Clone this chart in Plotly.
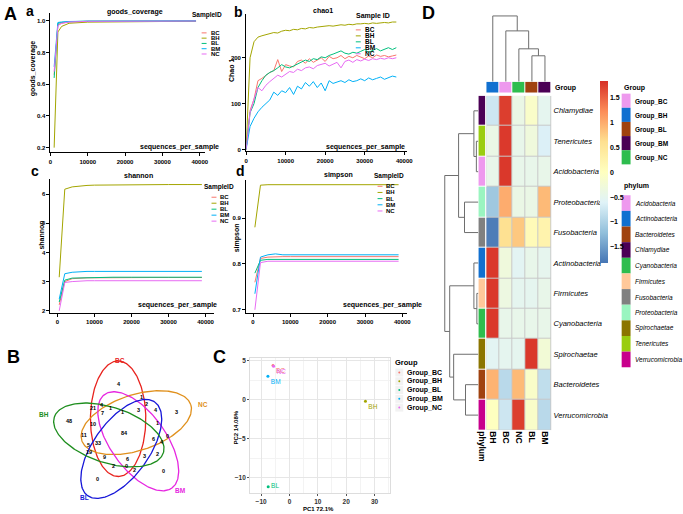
import numpy as np
import plotly.graph_objects as go

W, H = 683, 514
FONT = "Liberation Sans, Arial, sans-serif"
NARROW = "Liberation Sans Narrow, Arial Narrow, Liberation Sans, sans-serif"

# ---------------- data ----------------
samples = ["BC", "BH", "BL", "BM", "NC"]
sample_colors = ["#F8766D", "#A3A500", "#00BF7D", "#00B0F6", "#E76BF3"]

# a: goods_coverage
gc_depth = [1000, 2000, 3000, 5000, 10000, 20000, 30000, 39000]
gc_BC = [0.66, 0.975, 0.985, 0.993, 0.997, 0.998, 0.999, 0.999]
gc_BH = [0.20, 0.93, 0.965, 0.985, 0.992, 0.995, 0.997, 0.998]
gc_BL = [0.64, 0.985, 0.990, 0.995, 0.998, 0.999, 0.999, 0.999]
gc_BM = [0.71, 0.990, 0.993, 0.996, 0.998, 0.999, 0.999, 1.000]
gc_NC = [0.68, 0.970, 0.985, 0.993, 0.997, 0.998, 0.999, 0.999]

# b: chao1
chao_depth = list(range(0, 39000, 1000))
chao_BH = [0, 200, 235, 245, 248, 250, 252, 255, 254, 258, 260, 259, 262, 261, 264, 263, 266, 265, 267, 268,
           268, 270, 269, 271, 272, 271, 273, 272, 274, 274, 275, 274, 276, 275, 276, 277, 276, 278, 278]
chao_BC = [0, 85, 110, 150, 155, 162, 168, 172, 196, 170, 185, 182, 180, 192, 195, 188, 198, 190, 196, 200,
           192, 203, 198, 200, 205, 198, 203, 200, 205, 202, 198, 204, 200, 206, 203, 205, 202, 204, 206]
chao_BL = [0, 80, 100, 135, 150, 162, 168, 172, 178, 185, 180, 178, 182, 186, 190, 195, 192, 198, 196, 202,
           200, 205, 208, 212, 215, 210, 208, 212, 210, 214, 218, 212, 216, 220, 215, 218, 222, 218, 222]
chao_BM = [0, 50, 68, 82, 92, 100, 108, 125, 118, 128, 124, 135, 120, 138, 132, 146, 138, 148, 135, 145,
           128, 150, 144, 147, 150, 146, 152, 148, 150, 154, 150, 156, 152, 155, 158, 153, 157, 160, 158]
chao_NC = [0, 80, 110, 135, 128, 140, 148, 155, 162, 158, 165, 170, 168, 175, 172, 178, 180, 176, 183, 185,
           188, 182, 186, 190, 178, 192, 195, 190, 196, 193, 197, 194, 198, 196, 199, 197, 200, 198, 200]

# c: shannon, d: simpson
div_depth = [500, 2000, 4000, 6000, 8000, 10000, 15000, 20000, 25000, 30000, 35000, 39000]
sh_BC = [2.2, 3.00, 3.10, 3.12, 3.13, 3.13, 3.14, 3.14, 3.14, 3.14, 3.14, 3.14]
sh_BH = [3.15, 6.17, 6.25, 6.28, 6.30, 6.31, 6.32, 6.33, 6.33, 6.33, 6.33, 6.33]
sh_BL = [2.3, 3.05, 3.12, 3.13, 3.14, 3.15, 3.15, 3.15, 3.15, 3.15, 3.15, 3.15]
sh_BM = [2.4, 3.27, 3.32, 3.34, 3.35, 3.35, 3.35, 3.35, 3.35, 3.35, 3.35, 3.35]
sh_NC = [2.0, 2.97, 3.00, 3.02, 3.03, 3.03, 3.03, 3.03, 3.03, 3.03, 3.03, 3.03]
si_BC = [0.760, 0.812, 0.815, 0.816, 0.816, 0.816, 0.816, 0.816, 0.816, 0.816, 0.816, 0.816]
si_BH = [0.880, 0.972, 0.973, 0.973, 0.973, 0.973, 0.973, 0.973, 0.973, 0.973, 0.973, 0.973]
si_BL = [0.780, 0.808, 0.810, 0.810, 0.810, 0.810, 0.810, 0.810, 0.810, 0.810, 0.810, 0.810]
si_BM = [0.735, 0.815, 0.820, 0.822, 0.820, 0.820, 0.820, 0.820, 0.820, 0.820, 0.820, 0.820]
si_NC = [0.700, 0.803, 0.806, 0.806, 0.806, 0.806, 0.806, 0.806, 0.806, 0.806, 0.806, 0.806]

# B: Venn counts (31 regions)
venn_sets = ["BC", "NC", "BM", "BL", "BH"]
venn_set_colors = ["#E8231E", "#E0901C", "#E627E0", "#1616D8", "#1E8E1E"]
venn_counts = [4, 1, 1, 2, 4, 21, 1, 3, 4, 3, 7, 48, 10, 1, 84, 11, 0, 6, 5, 33, 4, 19, 9, 6, 3, 2, 2, 0, 2, 0, 0]

# C: PCA
pca_groups = ["Group_BC", "Group_BH", "Group_BL", "Group_BM", "Group_NC"]
pca_pc1 = [-5.8, 26.8, -7.5, -7.6, -5.6]
pca_pc2 = [4.4, -0.2, -11.2, 3.0, 4.3]

# D: heatmap
heat_cols = ["BH", "BC", "NC", "BL", "BM"]
phyla = ["Chlamydiae", "Tenericutes", "Acidobacteria", "Proteobacteria", "Fusobacteria",
         "Actinobacteria", "Firmicutes", "Cyanobacteria", "Spirochaetae", "Bacteroidetes", "Verrucomicrobia"]
heat_z = [
    [-0.75, 1.75, -0.40, -0.10, -0.50],
    [-0.40, 1.78, -0.45, -0.30, -0.63],
    [-0.45, 1.79, -0.45, -0.45, -0.44],
    [-1.10, 1.00, -0.40, -0.40, 0.90],
    [-1.75, 0.60, 0.80, 0.10, 0.25],
    [1.79, -0.30, -0.55, -0.45, -0.49],
    [1.79, -0.35, -0.50, -0.50, -0.44],
    [1.79, -0.45, -0.45, -0.45, -0.44],
    [-0.55, -0.50, -0.50, 1.79, -0.24],
    [0.95, -0.90, 0.90, -0.10, -0.85],
    [0.00, -0.75, 1.75, -0.10, -0.90],
]
group_names = ["Group_BC", "Group_BH", "Group_BL", "Group_BM", "Group_NC"]
group_colors = ["#EE99EE", "#1170D0", "#A0420F", "#4B0055", "#2EBD4E"]
phylum_legend = ["Acidobacteria", "Actinobacteria", "Bacteroidetes", "Chlamydiae", "Cyanobacteria",
                 "Firmicutes", "Fusobacteria", "Proteobacteria", "Spirochaetae", "Tenericutes", "Verrucomicrobia"]
phylum_colors = ["#EE99EE", "#1170D0", "#A0420F", "#4B0055", "#2EBD4E",
                 "#FFC89A", "#808080", "#9AF5C0", "#8B7500", "#9ACD10", "#C8008C"]
col_tree = ("BH", ("BC", ("NC", ("BL", "BM", 2.6), 3.3), 5.1), 6.6)
row_tree = ((("Chlamydiae", ("Tenericutes", "Acidobacteria", 0.2), 0.45),
             ("Proteobacteria", "Fusobacteria", 1.4), 2.0),
            (("Actinobacteria", ("Firmicutes", "Cyanobacteria", 0.15), 0.45),
             ("Spirochaetae", ("Bacteroidetes", "Verrucomicrobia", 1.3), 2.5), 2.9), 3.4)

# ---------------- helpers ----------------
def fx(p):
    return p / W

def fy(p):
    return 1 - p / H

fig = go.Figure()
layout = dict(width=W, height=H, margin=dict(l=0, r=0, t=0, b=0), paper_bgcolor="white",
              plot_bgcolor="white", showlegend=False, annotations=[], shapes=[])

def axes(i, x0, x1, y0, y1, xkw, ykw):
    xn = "xaxis" if i == 1 else f"xaxis{i}"
    yn = "yaxis" if i == 1 else f"yaxis{i}"
    xa = dict(domain=[fx(x0), fx(x1)], anchor="y" if i == 1 else f"y{i}")
    ya = dict(domain=[fy(y1), fy(y0)], anchor="x" if i == 1 else f"x{i}")
    xa.update(xkw)
    ya.update(ykw)
    layout[xn] = xa
    layout[yn] = ya
    return ("x" if i == 1 else f"x{i}"), ("y" if i == 1 else f"y{i}")

def ann(x, y, text, size, color="black", bold=True, italic=False, xanchor="center",
        yanchor="middle", angle=0, family=FONT):
    f = dict(size=size, color=color, family=family)
    if bold:
        f["weight"] = "bold"
    if italic:
        f["style"] = "italic"
    layout["annotations"].append(dict(x=fx(x), y=fy(y), xref="paper", yref="paper", text=text,
                                      showarrow=False, font=f, xanchor=xanchor, yanchor=yanchor,
                                      textangle=angle))

tick_font = dict(size=6, color="black", family=FONT, weight="bold")
line_ax = dict(showline=True, linecolor="black", linewidth=1, ticks="outside", ticklen=3,
               tickwidth=1, tickcolor="black", showgrid=False, zeroline=False, tickfont=tick_font)
xt = dict(tickvals=[0, 10000, 20000, 30000, 40000], ticktext=["0", "10000", "20000", "30000", "40000"])

# ---------------- panels a-d ----------------
xa_, ya_ = axes(1, 49, 205, 12, 152, dict(range=[0, 41300], **xt, **line_ax),
                dict(range=[0.17, 1.05], tickvals=[0.2, 0.4, 0.6, 0.8, 1.0],
                     ticktext=["0.2", "0.4", "0.6", "0.8", "1.0"], **line_ax))
xb_, yb_ = axes(2, 247, 410, 13, 151, dict(range=[0, 40750], **xt, **line_ax),
                dict(range=[-4.3, 295.6], tickvals=[0, 100, 200], **line_ax))
xc_, yc_ = axes(3, 49, 215, 179, 313, dict(range=[-1870, 42400], **xt, **line_ax),
                dict(range=[1.93, 6.51], tickvals=[2, 3, 4, 5, 6], **line_ax))
xd_, yd_ = axes(4, 247, 410, 180, 313, dict(range=[-1850, 41300], **xt, **line_ax),
                dict(range=[0.6935, 0.9826], tickvals=[0.7, 0.8, 0.9], **line_ax))

gc_vals = [gc_BC, gc_BH, gc_BL, gc_BM, gc_NC]
chao_vals = [chao_BC, chao_BH, chao_BL, chao_BM, chao_NC]
sh_vals = [sh_BC, sh_BH, sh_BL, sh_BM, sh_NC]
si_vals = [si_BC, si_BH, si_BL, si_BM, si_NC]
for k, s in enumerate(samples):
    c = sample_colors[k]
    fig.add_trace(go.Scatter(x=gc_depth, y=gc_vals[k], mode="lines", line=dict(color=c, width=1),
                             xaxis=xa_, yaxis=ya_))
    fig.add_trace(go.Scatter(x=chao_depth, y=chao_vals[k], mode="lines", line=dict(color=c, width=1),
                             xaxis=xb_, yaxis=yb_))
    fig.add_trace(go.Scatter(x=div_depth, y=sh_vals[k], mode="lines", line=dict(color=c, width=1),
                             xaxis=xc_, yaxis=yc_))
    fig.add_trace(go.Scatter(x=div_depth, y=si_vals[k], mode="lines", line=dict(color=c, width=1),
                             xaxis=xd_, yaxis=yd_))

# titles / labels
ann(135, 11, "goods_coverage", 7)
ann(325, 10, "chao1", 7)
ann(138, 175, "shannon", 7)
ann(340, 175, "simpson", 7)
ann(31, 68, "goods_coverage", 7, angle=-90)
ann(232, 70, "Chao 1", 7, angle=-90)
ann(40, 235, "shannon", 7, angle=-90)
ann(238, 238, "simpson", 7, angle=-90)
ann(222, 147, "sequences_per_sample", 7, xanchor="right")
ann(410, 147, "sequences_per_sample", 7, xanchor="right")
ann(220, 305, "sequences_per_sample", 7, xanchor="right")
ann(427, 305, "sequences_per_sample", 7, xanchor="right")

# panel letters
ann(9, 13, "A", 18)
ann(28, 10, "a", 14)
ann(239, 11, "b", 14)
ann(33, 171, "c", 14)
ann(241, 171, "d", 14)
ann(12, 357, "B", 18)
ann(220, 357, "C", 18)
ann(432, 12, "D", 18)

# small sample legends
def sample_legend(title, tx, ty, kx, y0, dy, size):
    ann(tx, ty, title, size)
    for k, s in enumerate(samples):
        yy = y0 + dy * k
        layout["shapes"].append(dict(type="line", xref="paper", yref="paper", x0=fx(kx), x1=fx(kx + 5),
                                     y0=fy(yy), y1=fy(yy), line=dict(color=sample_colors[k], width=1)))
        ann(kx + 7, yy, s, size - 0.5, xanchor="left")

sample_legend("SampleID", 207, 14, 202, 32, 5.3, 6.5)
sample_legend("Sample ID", 375, 15, 358, 29, 6.0, 7)
sample_legend("SampleID", 220, 187, 212, 197, 6.0, 6.5)
sample_legend("SampleID", 392, 176, 380, 186, 6.2, 6.5)

# ---------------- B: Venn ----------------
xv_, yv_ = axes(5, 0, 240, 320, 514, dict(range=[0, 240], visible=False),
                dict(range=[514, 320], visible=False))
venn_center = (124, 434)
venn_offset_r = 16
venn_offset_ang = [114, 42, -30, -102, 186]
venn_a, venn_b = 58, 28
t = np.linspace(0, 2 * np.pi, 200)
for k in range(5):
    ang = np.deg2rad(venn_offset_ang[k])
    cx = venn_center[0] + venn_offset_r * np.cos(ang)
    cy = venn_center[1] - venn_offset_r * np.sin(ang)
    rot = np.deg2rad(venn_offset_ang[k] - 24)
    ex = venn_a * np.cos(t)
    ey = venn_b * np.sin(t)
    px = cx + ex * np.cos(rot) - ey * np.sin(rot)
    py = cy - (ex * np.sin(rot) + ey * np.cos(rot))
    fig.add_trace(go.Scatter(x=px, y=py, mode="lines", line=dict(color=venn_set_colors[k], width=1.3),
                             xaxis=xv_, yaxis=yv_, hoverinfo="skip"))
venn_pos = [(118, 384), (110, 409), (141, 398), (146, 405), (101, 406), (92, 409), (122, 413), (138, 411),
            (156, 411), (177, 413), (102, 414), (68, 422), (92, 425), (157, 424), (124, 434), (83, 436),
            (167, 437), (153, 440), (88, 446), (97, 444), (162, 443), (88, 453), (104, 458), (127, 460),
            (144, 457), (157, 455), (113, 467), (126, 467), (134, 471), (163, 472), (97, 480)]
for (vx, vy), n in zip(venn_pos, venn_counts):
    ann(vx, vy, str(n), 5.5)
venn_label_pos = [(119, 361), (203, 405), (180, 491), (83, 498), (43, 415)]
for k, (lx, ly) in enumerate(venn_label_pos):
    ann(lx, ly, venn_sets[k], 6.5, color=venn_set_colors[k])

# ---------------- C: PCA ----------------
pca_ax = dict(showgrid=True, gridcolor="#E6E6E6", gridwidth=0.8, zeroline=False, showline=True, mirror=True,
              linecolor="#DDDDDD", linewidth=1, ticks="outside", ticklen=2, tickcolor="#555555",
              tickfont=dict(size=6.5, color="#333333", family=FONT, weight="bold"))
xp_, yp_ = axes(6, 251, 393, 358, 494,
                dict(range=[-13.9, 35.6], tickvals=[-10, 0, 10, 20, 30],
                     minor=dict(showgrid=True, gridcolor="#F3F3F3", dtick=5, tick0=-15), **pca_ax),
                dict(range=[-12.0, 5.4], tickvals=[-10, -5, 0, 5],
                     minor=dict(showgrid=True, gridcolor="#F3F3F3", dtick=2.5, tick0=-12.5), **pca_ax))
pca_labels = [g.replace("Group_", "") for g in pca_groups]
pca_textpos = ["bottom right", "bottom right", "middle right", "bottom right", "bottom right"]
for k in range(5):
    fig.add_trace(go.Scatter(x=[pca_pc1[k]], y=[pca_pc2[k]], mode="markers+text",
                             marker=dict(color=sample_colors[k], size=3),
                             text=[pca_labels[k]], textposition=pca_textpos[k], cliponaxis=False,
                             textfont=dict(size=6.5, color=sample_colors[k], family=FONT),
                             xaxis=xp_, yaxis=yp_))
ann(320, 510, "PC1 72.1%", 6)
ann(237, 428, "PC2 14.08%", 6, angle=-90)
ann(396, 363, "Group", 7.5, xanchor="left")
for k, g in enumerate(pca_groups):
    yy = 373 + 8.8 * k
    layout["shapes"].append(dict(type="rect", xref="paper", yref="paper", x0=fx(398), x1=fx(406),
                                 y0=fy(yy - 4), y1=fy(yy + 4), fillcolor="#F2F2F2", line=dict(width=0)))
    layout["shapes"].append(dict(type="circle", xref="paper", yref="paper", x0=fx(401), x1=fx(403),
                                 y0=fy(yy - 1), y1=fy(yy + 1), fillcolor=sample_colors[k],
                                 line=dict(width=0)))
    ann(408, yy, g, 7, xanchor="left")

# ---------------- D: heatmap ----------------
ncol, nrow = len(heat_cols), len(phyla)
xh_, yh_ = axes(7, 490, 556, 95, 431,
                dict(range=[-0.5, ncol - 0.5], tickvals=list(range(ncol)), ticktext=heat_cols, tickangle=90,
                     ticks="", showline=False, showgrid=False, zeroline=False,
                     tickfont=dict(size=8.5, color="black", family=FONT, weight="bold")),
                dict(range=[nrow - 0.5, -0.5], tickvals=list(range(nrow)), ticktext=phyla, side="right",
                     ticks="", showline=False, showgrid=False, zeroline=False, ticklabelstandoff=1,
                     tickfont=dict(size=7.5, color="black", family=NARROW, style="italic")))
rdylbu = ["#4575B4", "#91BFDB", "#E0F3F8", "#FFFFBF", "#FEE090", "#FC8D59", "#D73027"]
cs = [[i / 6, c] for i, c in enumerate(rdylbu)]
layout["shapes"].append(dict(type="rect", xref=xh_, yref=yh_, x0=-0.5, x1=ncol - 0.5, y0=-0.5,
                             y1=nrow - 0.5, fillcolor="#C8C8C8", line=dict(width=0), layer="below"))
fig.add_trace(go.Heatmap(z=heat_z, x=list(range(ncol)), y=list(range(nrow)), colorscale=cs,
                         zmin=-1.82, zmax=1.84, xgap=1, ygap=1, xaxis=xh_, yaxis=yh_,
                         colorbar=dict(x=fx(605), xanchor="left", y=fy(80), yanchor="top",
                                       len=(263 - 80) / H, lenmode="fraction", thickness=8,
                                       thicknessmode="pixels", outlinewidth=0, ticks="", xpad=0, ypad=0,
                                       tickvals=[-1.5, -1, -0.5, 0, 0.5, 1, 1.5],
                                       ticktext=["\u22121.5", "\u22121", "\u22120.5", "0", "0.5", "1", "1.5"],
                                       tickfont=dict(size=7, color="black", family=NARROW, weight="bold"))))

def discrete_scale(colors):
    n = len(colors)
    out = []
    for i, c in enumerate(colors):
        out.append([i / n, c])
        out.append([(i + 1) / n, c])
    return out

# group bar
xg_, yg_ = axes(8, 490, 556, 81, 92, dict(range=[-0.5, ncol - 0.5], visible=False),
                dict(range=[-0.5, 0.5], visible=False))
col_color = [group_colors[group_names.index("Group_" + c)] for c in heat_cols]
fig.add_trace(go.Heatmap(z=[list(range(ncol))], x=list(range(ncol)), y=[0], colorscale=discrete_scale(col_color),
                         zmin=-0.5, zmax=ncol - 0.5, showscale=False, xgap=1, xaxis=xg_, yaxis=yg_))
ann(558, 87, "Group", 7, xanchor="left", family=NARROW)

# phylum bar
xq_, yq_ = axes(9, 482, 489, 95, 431,
                dict(range=[-0.5, 0.5], tickvals=[0], ticktext=["phylum"], tickangle=90, ticks="",
                     showline=False, showgrid=False, zeroline=False,
                     tickfont=dict(size=8.5, color="black", family=FONT, weight="bold")),
                dict(range=[nrow - 0.5, -0.5], visible=False))
row_color = [phylum_colors[phylum_legend.index(p)] for p in phyla]
fig.add_trace(go.Heatmap(z=[[i] for i in range(nrow)], x=[0], y=list(range(nrow)),
                         colorscale=discrete_scale(row_color), zmin=-0.5, zmax=nrow - 0.5,
                         showscale=False, ygap=1, xaxis=xq_, yaxis=yq_))

# dendrograms
def dendro(tree, pos):
    segs_p, segs_h = [], []

    def rec(node):
        if isinstance(node, str):
            return pos[node], 0.0
        l, r, h = node
        p1, h1 = rec(l)
        p2, h2 = rec(r)
        segs_p.extend([p1, p1, p2, p2, None])
        segs_h.extend([h1, h, h, h2, None])
        return (p1 + p2) / 2, h

    rec(tree)
    return segs_p, segs_h

xt_, yt_ = axes(10, 490, 556, 14, 81, dict(range=[-0.5, ncol - 0.5], visible=False),
                dict(range=[0, 6.7], visible=False))
cp, ch = dendro(col_tree, {c: i for i, c in enumerate(heat_cols)})
fig.add_trace(go.Scatter(x=cp, y=ch, mode="lines", line=dict(color="#6E6E6E", width=1),
                         xaxis=xt_, yaxis=yt_, hoverinfo="skip"))
xl_, yl_ = axes(11, 447, 482, 95, 431, dict(range=[3.5, 0], visible=False),
                dict(range=[nrow - 0.5, -0.5], visible=False))
rp, rh = dendro(row_tree, {p: i for i, p in enumerate(phyla)})
fig.add_trace(go.Scatter(x=rh, y=rp, mode="lines", line=dict(color="#6E6E6E", width=1),
                         xaxis=xl_, yaxis=yl_, hoverinfo="skip"))

# heatmap legends
ann(627, 87, "Group", 7, xanchor="left", family=NARROW)
for k, g in enumerate(group_names):
    y0 = 93 + 14.2 * k
    layout["shapes"].append(dict(type="rect", xref="paper", yref="paper", x0=fx(627), x1=fx(636),
                                 y0=fy(y0), y1=fy(y0 + 14.2), fillcolor=group_colors[k], line=dict(width=0)))
    ann(638, y0 + 8, g, 6.5, xanchor="left", family=NARROW)
ann(627, 186, "phylum", 7, xanchor="left", family=NARROW)
for k, p in enumerate(phylum_legend):
    y0 = 195 + 15.7 * k
    layout["shapes"].append(dict(type="rect", xref="paper", yref="paper", x0=fx(627), x1=fx(636),
                                 y0=fy(y0), y1=fy(y0 + 15.7), fillcolor=phylum_colors[k], line=dict(width=0)))
    ann(638, y0 + 8, p, 6.5, bold=False, italic=True, xanchor="left", family=NARROW)

fig.update_layout(**layout)
fig.write_html("out.html", config={"displayModeBar": False},
               post_script="document.body.style.margin='0';document.body.style.padding='0';")
